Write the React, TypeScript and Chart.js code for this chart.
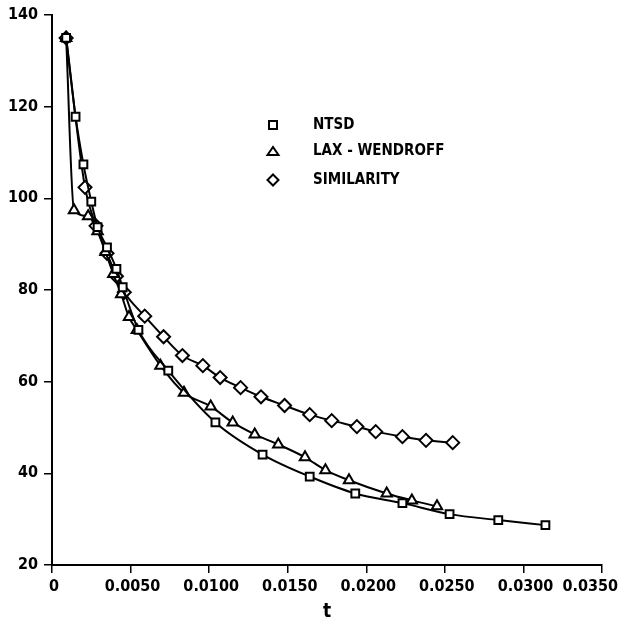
import React, { useEffect, useRef } from "react";
import { Chart, registerables } from "chart.js";

Chart.register(...registerables);

const ntsdT = [0.0009, 0.0015, 0.002, 0.0025, 0.0029, 0.0035, 0.0041, 0.0045, 0.0055, 0.0074, 0.0104, 0.0134, 0.0164, 0.0193, 0.0223, 0.0253, 0.0284, 0.0314];
const ntsdV = [135, 117.8, 107.4, 99.3, 93.7, 89.3, 84.6, 80.6, 71.3, 62.4, 51.1, 44.1, 39.3, 35.6, 33.5, 31.1, 29.8, 28.7];

const laxT = [0.0009, 0.0014, 0.0023, 0.0029, 0.0034, 0.0039, 0.0044, 0.0049, 0.0054, 0.0069, 0.0084, 0.0101, 0.0115, 0.0129, 0.0144, 0.0161, 0.0174, 0.0189, 0.0213, 0.0229, 0.0245];
const laxV = [135, 97.4, 96.1, 92.8, 88.3, 83.5, 79.1, 74.1, 71.3, 63.5, 57.6, 54.6, 51.1, 48.5, 46.3, 43.5, 40.7, 38.5, 35.6, 34.1, 32.8];

const simT = [0.0009, 0.0021, 0.0028, 0.0035, 0.0041, 0.0046, 0.0059, 0.0071, 0.0083, 0.0096, 0.0107, 0.012, 0.0133, 0.0148, 0.0164, 0.0178, 0.0194, 0.0206, 0.0223, 0.0238, 0.0255];
const simV = [135, 102.4, 94, 88, 83, 79.5, 74.3, 69.8, 65.7, 63.5, 60.9, 58.7, 56.7, 54.8, 52.8, 51.5, 50.2, 49.1, 48.0, 47.2, 46.7];

const xTickValues = [0, 0.005, 0.01, 0.015, 0.02, 0.025, 0.03, 0.035];
const xTickLabels = ["0", "0.0050", "0.0100", "0.0150", "0.0200", "0.0250", "0.0300", "0.0350"];
const yTickLabels = ["20", "40", "60", "80", "100", "120", "140"];
const seriesNames = ["NTSD", "LAX - WENDROFF", "SIMILARITY"];
const xTitle = "t";

const FONT = "'DejaVu Sans Condensed', 'DejaVu Sans', sans-serif";

const toPts = (t: number[], v: number[]) => t.map((x, i) => ({ x, y: v[i] }));

const legendPlugin = {
  id: "customLegend",
  afterDraw(chart: any) {
    const ctx = chart.ctx;
    const styles = ["rect", "triangle", "rectRot"];
    const rows = [125, 151, 180];
    ctx.save();
    ctx.fillStyle = "#000";
    ctx.strokeStyle = "#000";
    ctx.lineWidth = 2;
    ctx.font = `bold 15px ${FONT}`;
    ctx.textBaseline = "middle";
    seriesNames.forEach((name, i) => {
      const y = rows[i];
      const x = 273;
      ctx.beginPath();
      if (styles[i] === "rect") {
        ctx.rect(x - 4, y - 4, 8, 8);
      } else if (styles[i] === "triangle") {
        ctx.moveTo(x - 5.5, y + 4);
        ctx.lineTo(x + 5.5, y + 4);
        ctx.lineTo(x, y - 4);
        ctx.closePath();
      } else {
        ctx.moveTo(x, y - 5.5);
        ctx.lineTo(x + 5.5, y);
        ctx.lineTo(x, y + 5.5);
        ctx.lineTo(x - 5.5, y);
        ctx.closePath();
      }
      ctx.stroke();
      ctx.fillText(name, 313, y);
    });
    ctx.restore();
  },
};

const xLabelPlugin = {
  id: "xLabels",
  afterDraw(chart: any) {
    const ctx = chart.ctx;
    const scale = chart.scales.x;
    ctx.save();
    ctx.fillStyle = "#000";
    ctx.font = `bold 16px ${FONT}`;
    ctx.textBaseline = "top";
    ctx.textAlign = "center";
    xTickValues.forEach((v, i) => {
      const txt = xTickLabels[i];
      const w = ctx.measureText(txt).width;
      let cx = scale.getPixelForValue(v) + 2;
      if (cx + w / 2 > chart.width - 1) cx = chart.width - 1 - w / 2;
      ctx.fillText(txt, cx, scale.top + 14);
    });
    ctx.restore();
  },
};

export default function App() {
  const ref = useRef<HTMLCanvasElement>(null);
  useEffect(() => {
    if (!ref.current) return;
    const common = {
      borderColor: "#000",
      borderWidth: 2,
      pointBackgroundColor: "#fff",
      pointBorderColor: "#000",
      pointBorderWidth: 2,
      pointRadius: 5,
      showLine: true,
      fill: false,
      cubicInterpolationMode: "monotone" as const,
    };
    const chart = new Chart(ref.current, {
      type: "scatter",
      data: {
        datasets: [
          { ...common, label: seriesNames[0], data: toPts(ntsdT, ntsdV), pointStyle: "rect", pointRadius: 5.5 },
          { ...common, label: seriesNames[1], data: toPts(laxT, laxV), pointStyle: "triangle", pointRadius: 6 },
          { ...common, label: seriesNames[2], data: toPts(simT, simV), pointStyle: "rectRot", pointRadius: 6.5 },
        ],
      },
      options: {
        animation: false,
        responsive: false,
        maintainAspectRatio: false,
        layout: { padding: { top: 15, right: 17, left: 0, bottom: 0 } },
        plugins: { legend: { display: false }, tooltip: { enabled: false } },
        scales: {
          x: {
            type: "linear",
            min: 0,
            max: 0.035,
            afterFit: (s: any) => { s.height = 62; s.paddingLeft = 0; s.paddingRight = 0; },
            ticks: {
              stepSize: 0.005,
              color: "rgba(0,0,0,0)",
              font: { family: FONT, weight: "bold", size: 16 },
              padding: 8,
              maxRotation: 0,
              autoSkip: false,
              callback: (_v: any, i: number) => xTickLabels[i] ?? "",
            },
            grid: { drawOnChartArea: false, drawTicks: true, tickLength: 8, color: "#000", lineWidth: 1.5 },
            border: { display: true, color: "#000", width: 2 },
            title: { display: true, text: xTitle, color: "#000", font: { family: FONT, weight: "bold", size: 19 }, padding: { top: 0, bottom: 4 } },
          },
          y: {
            type: "linear",
            min: 20,
            max: 140,
            afterFit: (s: any) => { s.width = 52; s.paddingTop = 0; s.paddingBottom = 0; },
            ticks: {
              stepSize: 20,
              color: "#000",
              font: { family: FONT, weight: "bold", size: 16 },
              padding: 6,
              callback: (_v: any, i: number) => yTickLabels[i] ?? "",
            },
            grid: { drawOnChartArea: false, drawTicks: true, tickLength: 8, color: "#000", lineWidth: 1.5 },
            border: { display: true, color: "#000", width: 2 },
          },
        },
      },
      plugins: [legendPlugin, xLabelPlugin],
    });
    return () => chart.destroy();
  }, []);
  return (
    <div style={{ position: "fixed", left: 0, top: 0, width: 619, height: 627, background: "#fff" }}>
      <canvas ref={ref} width={619} height={627} style={{ width: 619, height: 627 }} />
    </div>
  );
}
